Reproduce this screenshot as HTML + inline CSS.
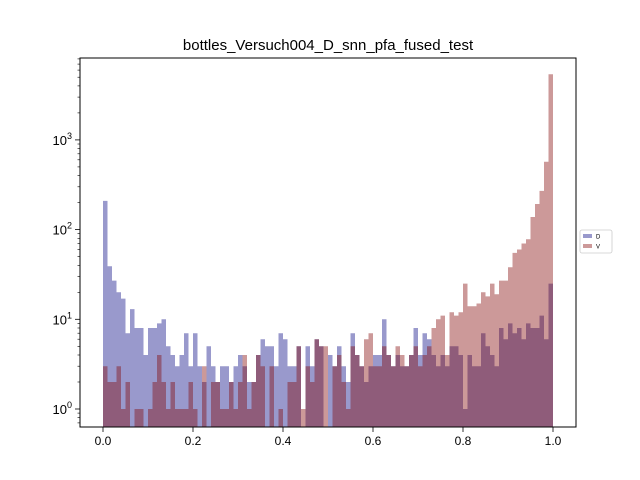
<!DOCTYPE html>
<html><head><meta charset="utf-8"><style>
body{margin:0;background:#fff}
svg{display:block;font-family:"Liberation Sans","DejaVu Sans",sans-serif}
</style></head><body>
<svg id="chart" width="640" height="480" viewBox="0 0 640 480">
<rect width="640" height="480" fill="#fff"/>
<text x="328" y="50" font-size="15" text-anchor="middle">bottles_Versuch004_D_snn_pfa_fused_test</text>
<g id="bars"></g>
<g id="axes"></g>
<g>
<rect x="580" y="230" width="32" height="23" fill="#fff" stroke="#ccc" stroke-width="0.8" rx="2"/>
<rect x="583" y="234" width="9" height="4" fill="rgba(0,0,128,0.4)"/>
<text x="596" y="238.5" font-size="6">D</text>
<rect x="583" y="244" width="9" height="4" fill="rgba(128,0,0,0.4)"/>
<text x="596" y="248.5" font-size="6">V</text>
</g>
</svg>
<script>
const binCount = 100;
const xTicks = [0, 0.2, 0.4, 0.6, 0.8, 1.0];
const xTickLabels = ["0.0", "0.2", "0.4", "0.6", "0.8", "1.0"];
const yDecades = [0, 1, 2, 3];
const seriesD = [209,39,27,20,17,7,13,8,8,4,8,8,9,10,5,4,3,4,7,3,7,3,2,
5,3,2,3,3,2,3,4,3,
2,2,4,6,5,5,3,7,6,3,3,5,0,5,3,6,5,0,
4,3,5,3,2,7,4,3,2,3,4,4,10,4,3,
4,3,3,4,8,4,7,6,4,3,
4,3,5,5,4,1,4,3,3,7,
5,4,3,8,6,9,7,8,6,9,
8,8,11,6,25];
const seriesV = [3,2,2,3,1,2,0,1,1,0,1,2,4,2,1,2,1,1,1,2,1,0,3,
0,2,2,1,1,2,1,2,4,
1,2,4,3,0,3,0,1,0,2,2,5,1,3,2,6,5,5,
0,3,4,2,1,5,4,3,6,7,3,3,5,4,3,
5,4,3,4,5,3,4,5,8,10,
11,4,12,11,12,25,14,14,15,20,
18,25,19,27,27,38,55,60,70,78,
138,193,270,570,5400];

const L=80,R=576,T=58,B=427;
const x0=103,x1=553;
const yUnit=409,perDec=89.7;
function xs(v){return x0+(x1-x0)*v;}
function ys(v){return yUnit-Math.log10(v)*perDec;}
const NS="http://www.w3.org/2000/svg";
function mk(tag,attrs,parent){const e=document.createElementNS(NS,tag);for(const k in attrs)e.setAttribute(k,attrs[k]);parent.appendChild(e);return e;}
const bars=document.getElementById('bars');
const axes=document.getElementById('axes');
function drawSeries(arr,color,name){
  const w=1/binCount;
  let d='';
  for(let i=0;i<arr.length;i++){
    if(arr[i]<=0)continue;
    const xa=xs(i*w),xb=xs((i+1)*w);
    const y=Math.max(T,ys(arr[i]));
    d+='M'+xa+' '+B+'L'+xa+' '+y+'L'+xb+' '+y+'L'+xb+' '+B+'Z';
  }
  const p=mk('path',{d:d,fill:color,'fill-rule':'nonzero'},bars);
  
  
}
drawSeries(seriesD,'rgba(0,0,128,0.4)','d');
drawSeries(seriesV,'rgba(128,0,0,0.4)','v');
const frame=mk('rect',{x:L,y:T,width:R-L,height:B-T,fill:'none',stroke:'#000','stroke-width':1},axes);


xTicks.forEach((t,i)=>{
  const x=xs(t);
  mk('line',{x1:x,x2:x,y1:B,y2:B+5,stroke:'#000','stroke-width':0.8},axes);
  const tx=mk('text',{x:x,y:B+18,'font-size':12,'text-anchor':'middle'},axes);
  tx.textContent=xTickLabels[i];
  
  
});
for(let d=-1;d<=3;d++){
  for(let m=1;m<10;m++){
    const v=m*Math.pow(10,d);const y=ys(v);
    if(y>B||y<T)continue;
    if(m===1){
      mk('line',{x1:L-5,x2:L,y1:y,y2:y,stroke:'#000','stroke-width':0.8},axes);
    } else {
      mk('line',{x1:L-2.5,x2:L,y1:y,y2:y,stroke:'#000','stroke-width':0.6},axes);
    }
  }
}
yDecades.forEach(d=>{
  const y=ys(Math.pow(10,d));
  const tx=mk('text',{x:L-8,y:y+5,'font-size':13,'text-anchor':'end'},axes);
  
  
  const a=mk('tspan',{},tx);a.textContent='10';
  const b=mk('tspan',{dy:-6,'font-size':9},tx);b.textContent=String(d);
});
</script>
</body></html>
